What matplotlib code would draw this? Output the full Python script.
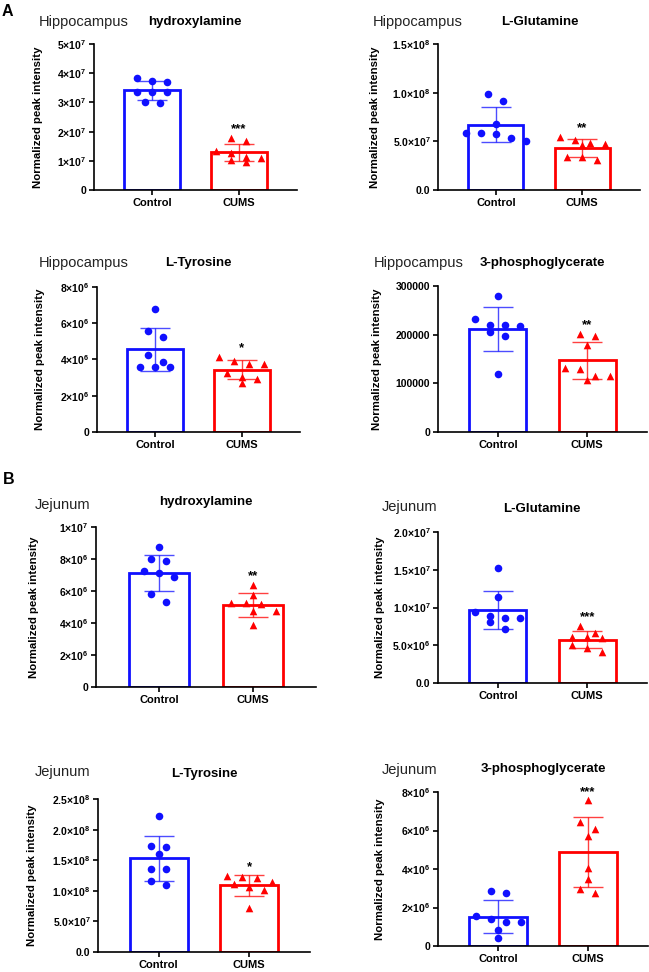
import numpy as np
import matplotlib
matplotlib.use('Agg')
import matplotlib.pyplot as plt

plt.rcParams['font.family'] = ['Liberation Sans', 'DejaVu Sans']
plt.rcParams['mathtext.fontset'] = 'custom'
plt.rcParams['mathtext.rm'] = 'Liberation Sans:bold'
plt.rcParams['mathtext.default'] = 'rm'

groups = ['Control', 'CUMS']
regions = ['Hippocampus'] * 4 + ['Jejunum'] * 4
metabolites = ['hydroxylamine', 'L-Glutamine', 'L-Tyrosine', '3-phosphoglycerate'] * 2
stars = ['***', '**', '*', '**', '**', '***', '*', '***']

# values, 8 animals per group
control = [
    np.array([3.74, 3.69, 3.84, 3.36, 3.36, 3.36, 2.98, 3.00]) * 1e7,
    np.array([0.534, 0.582, 0.575, 0.582, 0.507, 0.68, 0.91, 0.983]) * 1e8,
    np.array([4.25, 3.57, 5.26, 3.88, 6.76, 5.57, 3.57, 3.61]) * 1e6,
    np.array([2.20, 2.32, 2.19, 2.17, 2.06, 1.97, 2.80, 1.20]) * 1e5,
    np.array([8.75, 8.00, 7.86, 7.13, 7.26, 6.86, 5.80, 5.34]) * 1e6,
    np.array([1.525, 1.143, 0.857, 0.716, 0.945, 0.804, 0.888, 0.857]) * 1e7,
    np.array([2.23, 1.73, 1.71, 1.60, 1.36, 1.36, 1.10, 1.16]) * 1e8,
    np.array([2.73, 2.87, 1.24, 1.55, 1.24, 1.38, 0.83, 0.40]) * 1e6,
]
cums = [
    np.array([1.68, 1.78, 1.27, 1.34, 1.03, 0.96, 1.10, 1.13]) * 1e7,
    np.array([0.514, 0.545, 0.462, 0.483, 0.473, 0.308, 0.339, 0.339]) * 1e8,
    np.array([3.75, 3.28, 2.73, 3.92, 4.14, 2.91, 3.75, 3.06]) * 1e6,
    np.array([2.01, 1.97, 1.79, 1.30, 1.31, 1.07, 1.16, 1.16]) * 1e5,
    np.array([6.40, 5.72, 5.22, 4.76, 5.16, 5.22, 4.72, 3.87]) * 1e6,
    np.array([0.755, 0.662, 0.609, 0.609, 0.596, 0.503, 0.464, 0.411]) * 1e7,
    np.array([1.11, 1.245, 1.21, 1.02, 1.23, 1.07, 1.14, 0.72]) * 1e8,
    np.array([7.57, 6.44, 6.06, 5.72, 4.06, 3.46, 2.76, 2.97]) * 1e6,
]

yticks = [
    [0, 1e7, 2e7, 3e7, 4e7, 5e7],
    [0, 5e7, 1e8, 1.5e8],
    [0, 2e6, 4e6, 6e6, 8e6],
    [0, 1e5, 2e5, 3e5],
    [0, 2e6, 4e6, 6e6, 8e6, 1e7],
    [0, 5e6, 1e7, 1.5e7, 2e7],
    [0, 5e7, 1e8, 1.5e8, 2e8, 2.5e8],
    [0, 2e6, 4e6, 6e6, 8e6],
]
ytick_labels = [
    ['0', '1×10$^{7}$', '2×10$^{7}$', '3×10$^{7}$', '4×10$^{7}$', '5×10$^{7}$'],
    ['0.0', '5.0×10$^{7}$', '1.0×10$^{8}$', '1.5×10$^{8}$'],
    ['0', '2×10$^{6}$', '4×10$^{6}$', '6×10$^{6}$', '8×10$^{6}$'],
    ['0', '100000', '200000', '300000'],
    ['0', '2×10$^{6}$', '4×10$^{6}$', '6×10$^{6}$', '8×10$^{6}$', '1×10$^{7}$'],
    ['0.0', '5.0×10$^{6}$', '1.0×10$^{7}$', '1.5×10$^{7}$', '2.0×10$^{7}$'],
    ['0.0', '5.0×10$^{7}$', '1.0×10$^{8}$', '1.5×10$^{8}$', '2.0×10$^{8}$', '2.5×10$^{8}$'],
    ['0', '2×10$^{6}$', '4×10$^{6}$', '6×10$^{6}$', '8×10$^{6}$'],
]

# layout, in pixels of the 649x972 figure
W, H = 649, 972
axes_px = [(94, 44, 297, 190), (438, 44, 640, 190),
           (97, 287, 300, 432), (438, 286, 647, 432),
           (96, 527, 316, 687), (438, 532, 647, 683),
           (98, 799, 310, 952), (438, 792, 648, 946)]
region_px = [(39, 22), (373, 22), (39, 263), (374, 263),
             (35, 505), (382, 507), (35, 772), (382, 770)]
metab_px = [(195, 22), (540, 22), (198, 263), (542, 263),
            (206, 502), (542, 509), (204, 774), (543, 769)]
ylab_px = [51, 58, 52, 56, 57, 53, 61, 53]

colors = ['#1010ff', '#ff0000']
markers = ['o', '^']


def swarm(ax, x0, vals, step_px=15, row_px=7.5):
    # group points of similar height into rows, centre each row on the bar
    tr = ax.transData
    ppu = tr.transform((1, 0))[0] - tr.transform((0, 0))[0]
    ypix = np.array([tr.transform((x0, v))[1] for v in vals])
    order = np.argsort(-vals)
    rows = []
    for idx in order:
        if rows and ypix[rows[-1][0]] - ypix[idx] < row_px:
            rows[-1].append(idx)
        else:
            rows.append([idx])
    offs = np.zeros(len(vals))
    for row in rows:
        n = len(row)
        for k, idx in enumerate(row):
            offs[idx] = (k - (n - 1) / 2) * step_px / ppu
    return x0 + offs


fig = plt.figure(figsize=(W / 100, H / 100), dpi=100)

for p in range(8):
    l, t, r, b = axes_px[p]
    ax = fig.add_axes([l / W, 1 - b / H, (r - l) / W, (b - t) / H])
    ax.set_xlim(-0.67, 1.67)
    ax.set_ylim(0, yticks[p][-1])

    for i, vals in enumerate([control[p], cums[p]]):
        m = vals.mean()
        sd = vals.std(ddof=1)
        ax.bar(i, m, width=0.64, facecolor='white', edgecolor=colors[i],
               linewidth=2.0, zorder=2)
        ax.errorbar(i, m, yerr=sd, color=colors[i], alpha=0.75, lw=1.0,
                    capsize=11, capthick=1.0, zorder=3)
        xs = swarm(ax, i, vals)
        ax.scatter(xs, vals, s=30, marker=markers[i], color=colors[i],
                   linewidths=0, zorder=4)

    ax.annotate(stars[p], (1, cums[p].max()), xytext=(0, 4),
                textcoords='offset points', ha='center', va='baseline',
                fontsize=9.5, fontweight='bold')

    ax.set_xticks([0, 1])
    ax.set_xticklabels(groups, fontsize=8, fontweight='bold')
    ax.set_yticks(yticks[p])
    ax.set_yticklabels(ytick_labels[p], fontsize=7.5, fontweight='bold')
    ax.tick_params(width=1.2, length=3.5, pad=2)
    for s in ['top', 'right']:
        ax.spines[s].set_visible(False)
    for s in ['left', 'bottom']:
        ax.spines[s].set_linewidth(1.2)
    ax.set_ylabel('Normalized peak intensity', fontsize=8.2, fontweight='bold')
    ax.yaxis.set_label_coords(-ylab_px[p] / (r - l), 0.5)

    fig.text(region_px[p][0] / W, 1 - region_px[p][1] / H, regions[p],
             fontsize=10.5, color='#222222', ha='left', va='center')
    fig.text(metab_px[p][0] / W, 1 - metab_px[p][1] / H, metabolites[p],
             fontsize=9.5, fontweight='bold', ha='center', va='center')

fig.text(2 / W, 1 - 4 / H, 'A', fontsize=11.5, fontweight='bold', va='top')
fig.text(3 / W, 1 - 472 / H, 'B', fontsize=11.5, fontweight='bold', va='top')

fig.savefig('out.png', dpi=100)
